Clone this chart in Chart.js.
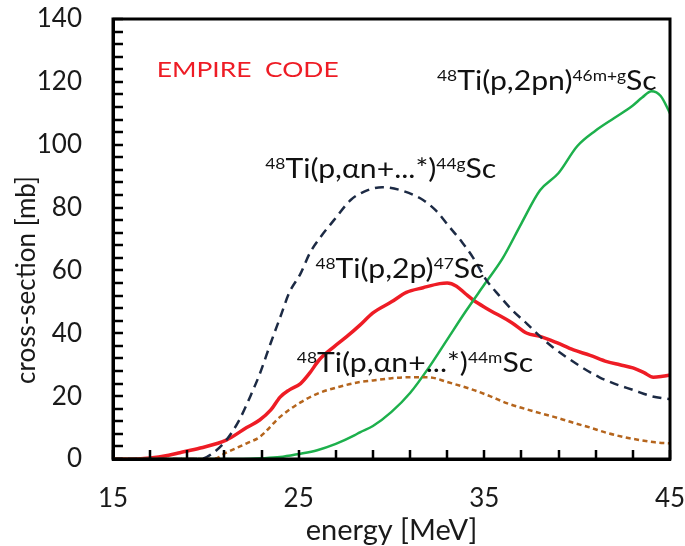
<!DOCTYPE html>
<html>
<head>
<meta charset="utf-8">
<script src="https://cdn.jsdelivr.net/npm/chart.js@4"></script>
<style>
  html,body{margin:0;padding:0;background:#fff;}
  #wrap{width:685px;height:546px;}
</style>
</head>
<body>
<div id="wrap"><canvas id="c" width="685" height="546"></canvas></div>
<script>
// ---- data ----
const FONT = 'Lato';

const energy47 = [15,16,17,18,18.6,19.7,21.1,22.2,22.9,23.5,24,24.5,25.1,25.6,26.1,26.9,27.6,28.3,29,30,30.8,31.7,32.6,33,33.5,34,34.4,35.1,36.5,37.3,38,38.9,39.8,40.7,41.6,42.3,43,43.6,44.1,44.6,45];
const xs47     = [0,0,0.3,1.2,2,3.5,6,10,12.4,15.6,19.7,22,24,27.4,31.5,35.7,39,42.6,46.5,50,53,54.5,55.8,56,55,52.5,50.6,48,43.3,40,39,37,34.7,33,31,30,29,27.5,26,26.3,26.7];

const energy46 = [15,20,22,23,24,25,26,27,28,28.3,29,30,31,32,33,34,35,36,37,38,39,40,41,42,43,43.5,44,44.5,45];
const xs46     = [0,0,0,0.2,0.6,1.6,2.8,4.8,7.5,8.5,10.5,15,21,29,38,47,55.5,64,75,85.5,91,99.5,104.5,108.5,112.5,115,117,115.5,110];

const energy44g = [15,17,19,19.7,20.4,21.1,21.8,22.4,22.9,23.5,24,24.5,25.1,25.6,26.1,26.9,27.8,28.5,29.5,30.5,31.7,32.4,33.1,33.8,34.4,35.1,35.8,36.5,37.3,38,38.7,39.4,40.3,41.2,42,43,44,45];
const xs44g     = [0,0,0,0,2,6,12.4,20,27,37,45,53,59,65.5,70,76,82.4,85,86.5,85.5,82.4,79,74,69,64,57,52,47.4,43,39,35.5,32.5,29,26,24,22,20,19];

const energy44m = [15,19,20.4,21.1,22.2,22.9,24,25.1,26.1,27.2,28.3,29,30,31,31.5,32,33,34.4,35.3,36.2,37,38,39,39.8,40.7,41.6,42.5,43.4,44.2,45];
const xs44m     = [0,0,0,2,5,7,13.4,18,21,23,24.5,25,25.7,26,26,26,24.5,22,20,17.8,16.3,14.6,13,11.5,10,8.3,7,6,5.3,5];

const xLabelValues = [15,25,35,45];
const yLabelValues = [0,20,40,60,80,100,120,140];
const xTickMarks = [15,17,19,21,23,25,27,29,31,33,35,37,39,41,43,45];
const yTickMarks = [0,4,8,12,16,20,24,28,32,36,40,44,48,52,56,60,64,68,72,76,80,84,88,92,96,100,104,108,112,116,120,124,128,132,136,140];

const xTitle = 'energy [MeV]';
const yTitle = 'cross-section [mb]';

// annotation texts, anchored in data units (energy, cross-section)
const noteTexts = ['EMPIRE  CODE','^{48}Ti(p,2pn)^{46m+g}Sc','^{48}Ti(p,\u03b1n+...*)^{44g}Sc','^{48}Ti(p,2p)^{47}Sc','^{48}Ti(p,\u03b1n+...*)^{44m}Sc'];
const noteE = [17.35,32.45,23.2,25.9,24.9];
const noteV = [121.5,117.4,89.4,57.6,27.7];
const noteColors = ['#ee1c25','#111','#111','#111','#111'];

function pts(xs, ys){ return xs.map((x,i)=>({x:x, y:ys[i]})); }

function parseRich(s){
  const out=[]; const re=/\^\{([^}]*)\}/g; let last=0, m;
  while((m=re.exec(s))){ if(m.index>last) out.push({t:s.slice(last,m.index),sup:false}); out.push({t:m[1],sup:true}); last=re.lastIndex; }
  if(last<s.length) out.push({t:s.slice(last),sup:false});
  return out;
}

const overlay = {
  id:'overlay',
  afterDraw(chart){
    const ctx = chart.ctx, x = chart.scales.x, y = chart.scales.y;
    const L = Math.round(x.getPixelForValue(15)), R = Math.round(x.getPixelForValue(45));
    const B = Math.round(y.getPixelForValue(0)),  T = Math.round(y.getPixelForValue(140));
    // frame + inward tick marks
    ctx.save();
    ctx.setLineDash([]);
    ctx.strokeStyle = '#000000';
    ctx.lineWidth = 3;
    ctx.lineCap = 'square';
    ctx.beginPath();
    ctx.moveTo(L, T); ctx.lineTo(R, T); ctx.lineTo(R, B); ctx.lineTo(L, B); ctx.closePath();
    ctx.stroke();
    ctx.lineWidth = 2.5;
    ctx.lineCap = 'butt';
    ctx.beginPath();
    for (const v of xTickMarks){
      const px = Math.round(x.getPixelForValue(v));
      ctx.moveTo(px, B); ctx.lineTo(px, B-9);
    }
    for (const v of yTickMarks){
      const py = Math.round(y.getPixelForValue(v));
      ctx.moveTo(L, py); ctx.lineTo(L+10, py);
    }
    ctx.stroke();
    ctx.restore();

    // annotations
    ctx.save();
    ctx.textBaseline='alphabetic';
    ctx.textAlign='left';
    noteTexts.forEach((txt,i)=>{
      const px0 = x.getPixelForValue(noteE[i]);
      const py = y.getPixelForValue(noteV[i]);
      const big = i===0 ? 22 : 26;
      const sx = i===0 ? 1.2 : 1.16;
      ctx.save();
      ctx.translate(px0, py);
      ctx.scale(sx, 1);
      ctx.fillStyle = noteColors[i];
      let px = 0;
      parseRich(txt).forEach(seg=>{
        ctx.font = (seg.sup? 15 : big) + 'px ' + FONT;
        ctx.fillText(seg.t, px, seg.sup ? -9 : 0);
        px += ctx.measureText(seg.t).width;
      });
      ctx.restore();
    });
    // y axis title
    const cy = (B + T)/2 + 41;
    ctx.translate(35, cy);
    ctx.rotate(-Math.PI/2);
    ctx.textAlign='center';
    ctx.textBaseline='alphabetic';
    ctx.fillStyle='#1a1a1a';
    ctx.font='26px '+FONT;
    ctx.fillText(yTitle, 0, 0);
    ctx.restore();
  }
};

new Chart(document.getElementById('c'), {
  type:'line',
  data:{
    datasets:[
      {label:'44m', data:pts(energy44m, xs44m), borderColor:'#b5651d', borderWidth:2.5, borderDash:[5,3.5]},
      {label:'44g', data:pts(energy44g, xs44g), borderColor:'#1c2a44', borderWidth:2.5, borderDash:[9,6]},
      {label:'46',  data:pts(energy46, xs46),  borderColor:'#1db04c', borderWidth:2.5},
      {label:'47',  data:pts(energy47, xs47),  borderColor:'#ee1c25', borderWidth:3.5}
    ]
  },
  options:{
    responsive:false, animation:false,
    devicePixelRatio:1,
    layout:{padding:{top:19,right:15,left:0,bottom:0}},
    elements:{point:{radius:0}, line:{cubicInterpolationMode:'monotone', fill:false}},
    plugins:{legend:{display:false}, tooltip:{enabled:false}},
    scales:{
      x:{type:'linear', min:15, max:45,
        afterFit(s){ s.height = 87; s.paddingLeft = 0; s.paddingRight = 0; },
        grid:{display:false, drawTicks:false},
        border:{display:true, color:'#000000', width:3},
        ticks:{stepSize:2, padding:24, color:'#1a1a1a', font:{family:FONT,size:26}, maxRotation:0, autoSkip:false,
          callback:(v)=> xLabelValues.includes(v) ? String(v) : ''},
        title:{display:true, text:xTitle, color:'#1a1a1a', font:{family:FONT,size:29,lineHeight:1}, padding:{top:0,bottom:0.5}}
      },
      y:{type:'linear', min:0, max:140,
        afterFit(s){ s.width = 113; s.paddingTop = 0; s.paddingBottom = 0; },
        grid:{display:false, drawTicks:false},
        border:{display:true, color:'#000000', width:3},
        ticks:{stepSize:4, padding:31, color:'#1a1a1a', font:{family:FONT,size:26}, autoSkip:false,
          callback:(v)=> yLabelValues.includes(v) ? String(v) : ''},
        title:{display:false, text:yTitle}
      }
    }
  },
  plugins:[overlay]
});
</script>
</body>
</html>
